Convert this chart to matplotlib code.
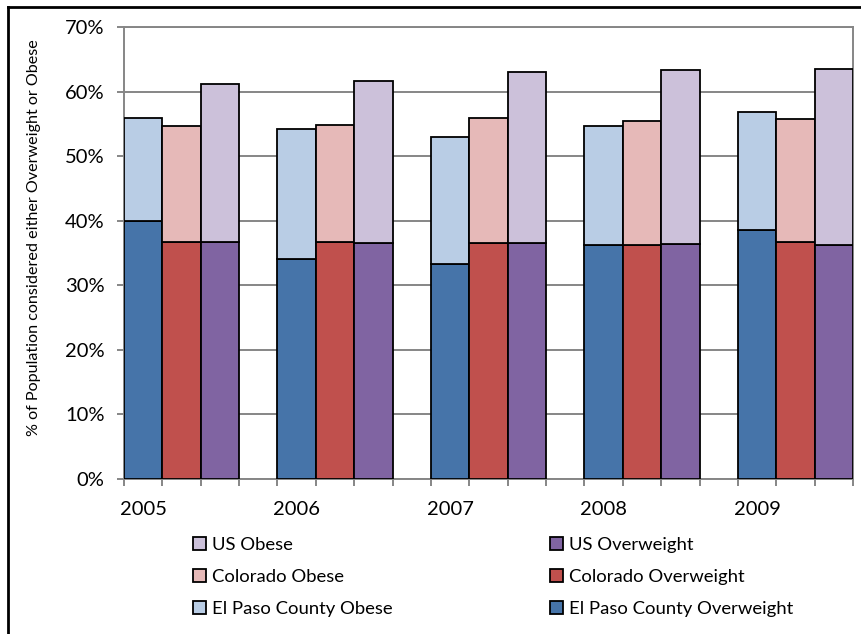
import matplotlib.pyplot as plt
import numpy as np
from matplotlib.lines import Line2D
from matplotlib.patches import Patch

plt.rcParams['font.family'] = ['Lato', 'DejaVu Sans']

years = ['2005', '2006', '2007', '2008', '2009']

# overweight share (%), bottom segment of each stack
elpaso_overweight = [40.0, 34.1, 33.3, 36.2, 38.6]
colorado_overweight = [36.7, 36.7, 36.5, 36.2, 36.7]
us_overweight = [36.7, 36.5, 36.5, 36.4, 36.2]

# obese share (%), stacked on top
elpaso_obese = [15.9, 20.1, 19.6, 18.5, 18.2]
colorado_obese = [17.9, 18.2, 19.4, 19.2, 19.1]
us_obese = [24.5, 25.2, 26.5, 26.9, 27.3]

series = [
    ('El Paso County', elpaso_overweight, elpaso_obese, '#4674A9', '#B9CDE5'),
    ('Colorado', colorado_overweight, colorado_obese, '#C0504D', '#E6B9B8'),
    ('US', us_overweight, us_obese, '#8064A2', '#CCC1DA'),
]

fig = plt.figure(figsize=(8.61, 6.34), dpi=100)
ax = fig.add_axes([124 / 861, 1 - 479 / 634, (853 - 124) / 861, (479 - 27) / 634])

grid_col = '#868686'
n_years = len(years)
slots = 4 * n_years - 1  # three bars per year plus one empty slot between years

handles_ow = {}
handles_ob = {}
for k, (name, ow, ob, c_dark, c_light) in enumerate(series):
    x = np.arange(n_years) * 4 + k + 0.5
    ax.bar(x, ow, width=1.0, color=c_dark, edgecolor='black', linewidth=1.3, zorder=3)
    ax.bar(x, ob, width=1.0, bottom=ow, color=c_light, edgecolor='black',
           linewidth=1.3, zorder=3)
    handles_ow[name] = Patch(facecolor=c_dark, edgecolor='black', linewidth=1.3)
    handles_ob[name] = Patch(facecolor=c_light, edgecolor='black', linewidth=1.3)

ax.set_xlim(0, slots)
ax.set_ylim(0, 70)
ax.set_yticks(np.arange(0, 71, 10))
ax.set_yticklabels([f'{v}%' for v in range(0, 71, 10)])
ax.yaxis.grid(True, color=grid_col, linewidth=1.4, zorder=0)

ax.set_xticks(np.arange(n_years) * 4 + 0.5)
ax.set_xticklabels(years)
ax.set_xticks(np.arange(0, slots + 1), minor=True)
ax.tick_params(axis='x', which='major', length=0, pad=16, labelsize=14.5)
ax.tick_params(axis='x', which='minor', length=5, width=1.4, color=grid_col, direction='out')
ax.tick_params(axis='y', length=5, width=1.4, color=grid_col, direction='out', pad=9,
               labelsize=14.5)

for side in ['left', 'bottom', 'right', 'top']:
    ax.spines[side].set_color(grid_col)
    ax.spines[side].set_linewidth(1.4)

fig.text(34 / 861, 1 - 238 / 634, '% of Population considered either Overweight or Obese',
         rotation=90, ha='center', va='center', fontsize=11.6)

# two legend columns, obese on the left, overweight on the right
names = ['US', 'Colorado', 'El Paso County']
leg_kw = dict(loc='upper left', frameon=False, fontsize=13.3, handlelength=0.7,
              handleheight=0.7, handletextpad=0.3, labelspacing=0.85, borderaxespad=0)
leg1 = fig.legend([handles_ob[n] for n in names], [f'{n} Obese' for n in names],
                  bbox_to_anchor=(186 / 861, 1 - 530 / 634), **leg_kw)
leg2 = fig.legend([handles_ow[n] for n in names], [f'{n} Overweight' for n in names],
                  bbox_to_anchor=(543 / 861, 1 - 530 / 634), **leg_kw)

# outer frame (top and left edges)
fig.add_artist(Line2D([8 / 861, 1], [1 - 7 / 634, 1 - 7 / 634], color='black',
                      linewidth=2, transform=fig.transFigure))
fig.add_artist(Line2D([8 / 861, 8 / 861], [0, 1 - 7 / 634], color='black',
                      linewidth=2, transform=fig.transFigure))

fig.savefig('out.png', dpi=100)
